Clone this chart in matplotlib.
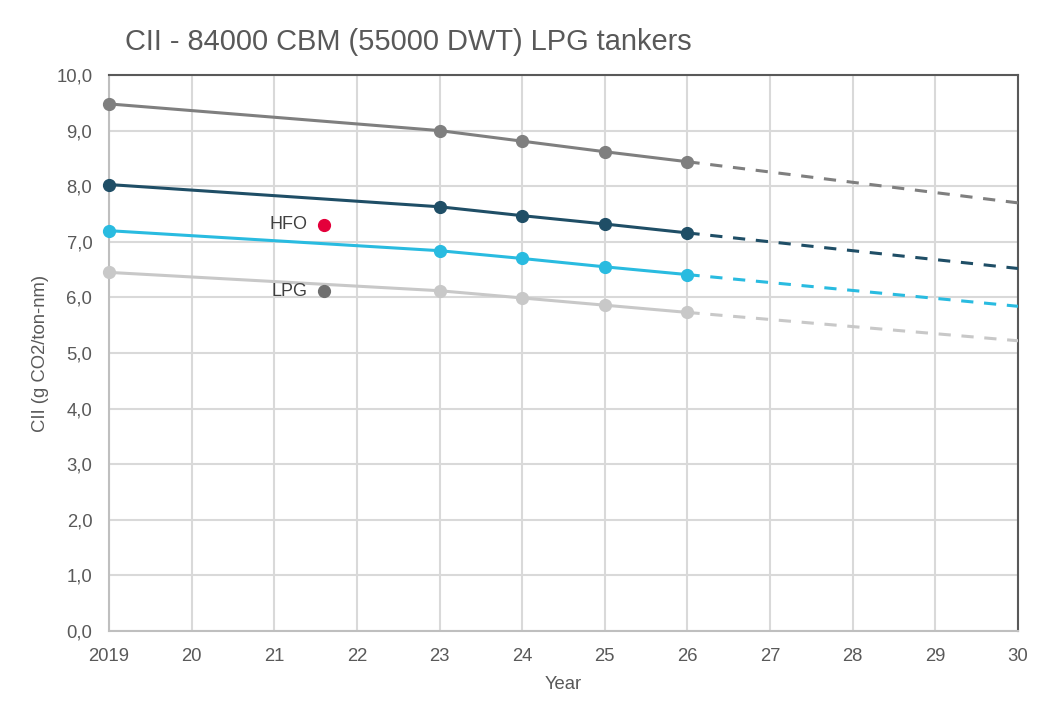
import numpy as np
import matplotlib
matplotlib.use("Agg")
import matplotlib.pyplot as plt
from matplotlib.ticker import FixedLocator, FixedFormatter

plt.rcParams['font.family'] = ['Liberation Sans', 'DejaVu Sans']

# measured years and projected end
years = [2019, 2023, 2024, 2025, 2026]
proj_years = [2026, 2030]

series_names = ["top", "hfo", "mid", "lpg"]
values = {
    "top": [9.48, 9.00, 8.81, 8.62, 8.44],
    "hfo": [8.03, 7.63, 7.47, 7.32, 7.16],
    "mid": [7.20, 6.84, 6.70, 6.55, 6.41],
    "lpg": [6.45, 6.12, 5.99, 5.86, 5.73],
}
proj_end = {"top": 7.70, "hfo": 6.52, "mid": 5.84, "lpg": 5.22}
colors = {"top": "#7f7f7f", "hfo": "#1f4e66", "mid": "#29bbe0", "lpg": "#c8c8c8"}

# legend-like labels inside the plot
label_names = ["HFO", "LPG"]
label_x = [2021.6, 2021.6]
label_y = [7.31, 6.11]
label_colors = ["#e4003b", "#6f6f6f"]

xticks = list(range(2019, 2031))
xtick_labels = ["2019"] + [str(y - 2000) for y in xticks[1:]]
yticks = np.arange(0, 10.01, 1.0)

txt = "#595959"

fig = plt.figure(figsize=(10.52, 7.2), dpi=100)
ax = fig.add_axes([109/1052, 1 - 631/720, (1018-109)/1052, (631-75)/720])

for s in series_names:
    ax.plot(years, values[s], '-o', color=colors[s], lw=2.2, ms=8.5, zorder=3, clip_on=False)
    ax.plot(proj_years, [values[s][-1], proj_end[s]], '--', color=colors[s],
            lw=2.2, dashes=(4, 3.5), zorder=3)

for n, x, y, c in zip(label_names, label_x, label_y, label_colors):
    ax.plot(x, y, 'o', color=c, ms=8.5, zorder=4)
    ax.text(x - 0.2, y, n, ha='right', va='center', fontsize=13, color="#404040")

ax.set_xlim(2019, 2030)
ax.set_ylim(0, 10)
ax.xaxis.set_major_locator(FixedLocator(xticks))
ax.xaxis.set_major_formatter(FixedFormatter(xtick_labels))
ax.set_yticks(yticks)
ax.set_yticklabels([f"{v:.1f}".replace(".", ",") for v in yticks])
ax.grid(True, color="#d9d9d9", lw=1.5, zorder=0)
ax.tick_params(length=0, labelsize=13.3, labelcolor=txt)
ax.tick_params(axis='y', pad=12)
ax.tick_params(axis='x', pad=12)

for side in ["left", "bottom"]:
    ax.spines[side].set_color("#bfbfbf")
    ax.spines[side].set_linewidth(1.5)
for side in ["top", "right"]:
    ax.spines[side].set_color("#595959")
    ax.spines[side].set_linewidth(1.5)

ax.set_xlabel("Year", fontsize=13.3, color=txt, labelpad=8)
ax.set_ylabel("CII (g CO2/ton-nm)", fontsize=13.3, color=txt, labelpad=5)
fig.text(125/1052, 1 - 42/720, "CII - 84000 CBM (55000 DWT) LPG tankers",
         fontsize=20.9, color=txt, va='center', ha='left')

fig.savefig("out.png", dpi=100)
